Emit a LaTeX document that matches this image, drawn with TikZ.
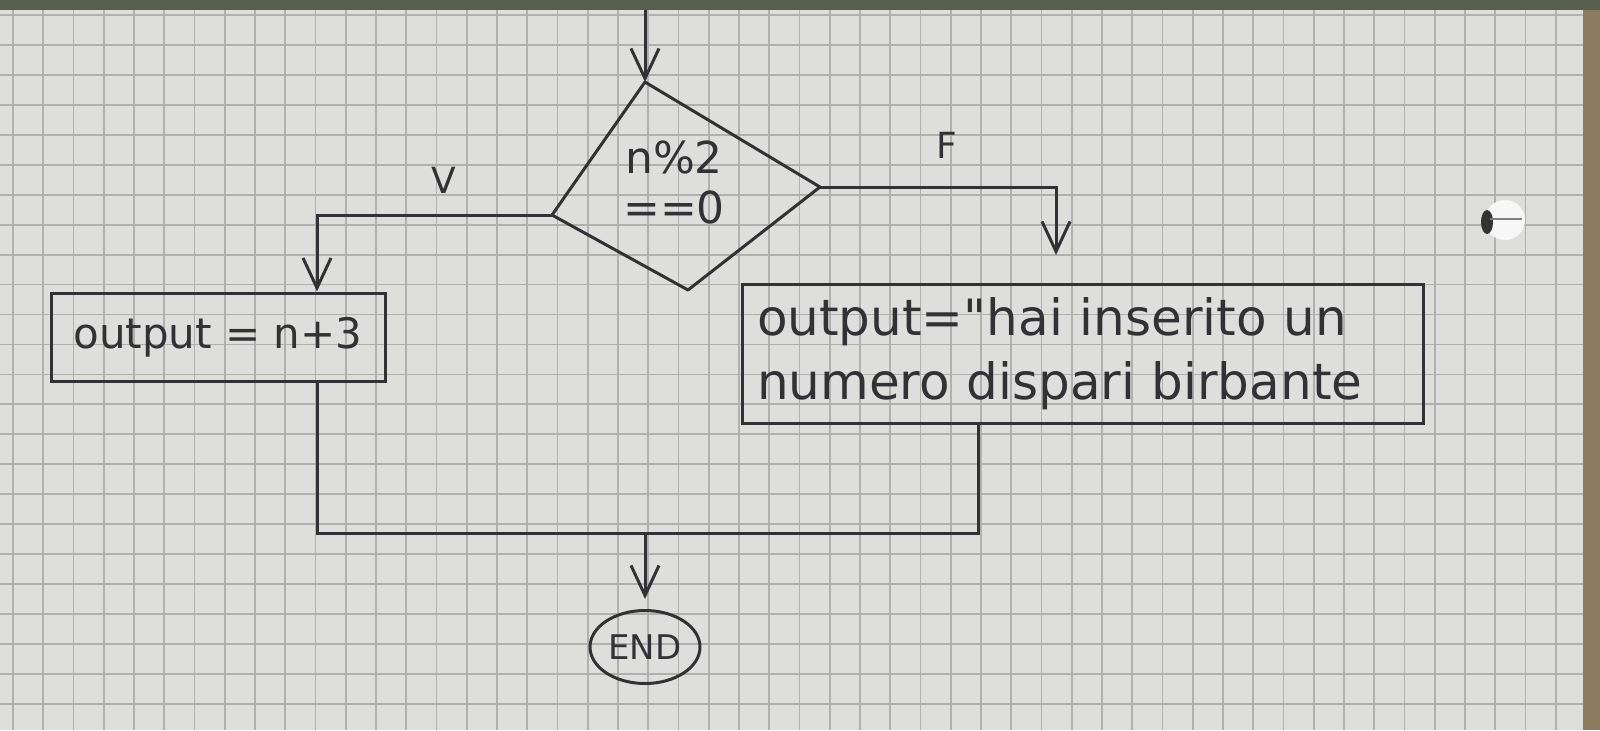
\documentclass[tikz,border=0pt]{standalone}
\usepackage{fontspec}
\setmainfont{DejaVu Sans}[Ligatures=TeXOff]
\usetikzlibrary{arrows.meta,shapes.geometric}
\definecolor{paper}{RGB}{222,223,220}
\definecolor{gridc}{RGB}{176,176,173}
\definecolor{inkc}{RGB}{50,50,54}
\definecolor{topband}{RGB}{88,94,78}
\definecolor{edgec}{RGB}{140,122,92}
\begin{document}
\begin{tikzpicture}[x=0.5pt,y=-0.5pt,
  inkline/.style={draw=inkc,line width=1.5pt},
  arr/.style={inkline,-{Straight Barb[length=15pt,width=14pt,line width=1.5pt]}},
  procbox/.style={inkline,rectangle,inner sep=0pt,text=inkc},
  txt/.style={text=inkc,inner sep=0pt},
  gridl/.style={draw=gridc,line width=0.9pt}]
\useasboundingbox (0,0) rectangle (1600,730);
% paper
\fill[paper] (0,0) rectangle (1600,730);
\foreach \i in {0,...,51} \draw[gridl] ({13+30.25*\i},0) -- ({13+30.25*\i},730);
\foreach \j in {0,...,24} \draw[gridl] (0,{15+29.95*\j}) -- (1583,{15+29.95*\j});
\fill[topband] (0,0) rectangle (1600,10);
\fill[edgec] (1583,10) rectangle (1600,730);
% small eyelet on the paper
\fill[white!94!gray] (1505,220) circle[radius=10pt];
\fill[black!80] (1487,222) ellipse[x radius=3pt,y radius=6pt];
\draw[gray,line width=0.6pt] (1490,219) -- (1522,219);
% decision
\coordinate (dT) at (645,82);
\coordinate (dL) at (552,215);
\coordinate (dB) at (688,290);
\coordinate (dR) at (820,187);
\draw[inkline,line join=round] (dT) -- (dR) -- (dB) -- (dL) -- cycle;
\node[txt,align=center,font=\fontsize{22}{25}\selectfont] (cond) at (674,182) {n\%2\\==0};
% start arrow
\coordinate (start) at (645,10);
\draw[arr] (start) -- (dT);
% labels
\node[txt,font=\fontsize{18}{18}\selectfont] (vlab) at (444,180) {V};
\node[txt,font=\fontsize{18}{18}\selectfont] (flab) at (947,145) {F};
% boxes
\node[procbox,minimum width=167pt,minimum height=44pt,font=\fontsize{21}{26}\selectfont] (lbox) at (218,337) {output = n+3};
\node[procbox,minimum width=340.5pt,minimum height=69.5pt,text width=326pt,inner xsep=7pt,align=left,font=\fontsize{25}{32}\selectfont] (rbox) at (1083,354) {output="hai inserito un\\numero dispari birbante};
% branches
\coordinate (lc) at (317,215);
\draw[arr] (dL) -- (lc) -- (lbox.north -| lc);
\coordinate (rc) at (1056,187);
\draw[arr,shorten >=14pt] (dR) -- (rc) -- (rbox.north -| rc);
% merge
\coordinate (ml) at (317,533);
\coordinate (mr) at (978,533);
\coordinate (mc) at (645,533);
\draw[inkline] (lbox.south -| ml) -- (ml) -- (mr) -- (rbox.south -| mr);
% end
\node[inkline,ellipse,minimum width=55pt,minimum height=36.5pt,inner sep=0pt,text=inkc,font=\fontsize{17}{17}\selectfont] (endn) at (645,647) {END};
\draw[arr,shorten >=5pt] (mc) -- (endn.north);
\end{tikzpicture}
\end{document}
